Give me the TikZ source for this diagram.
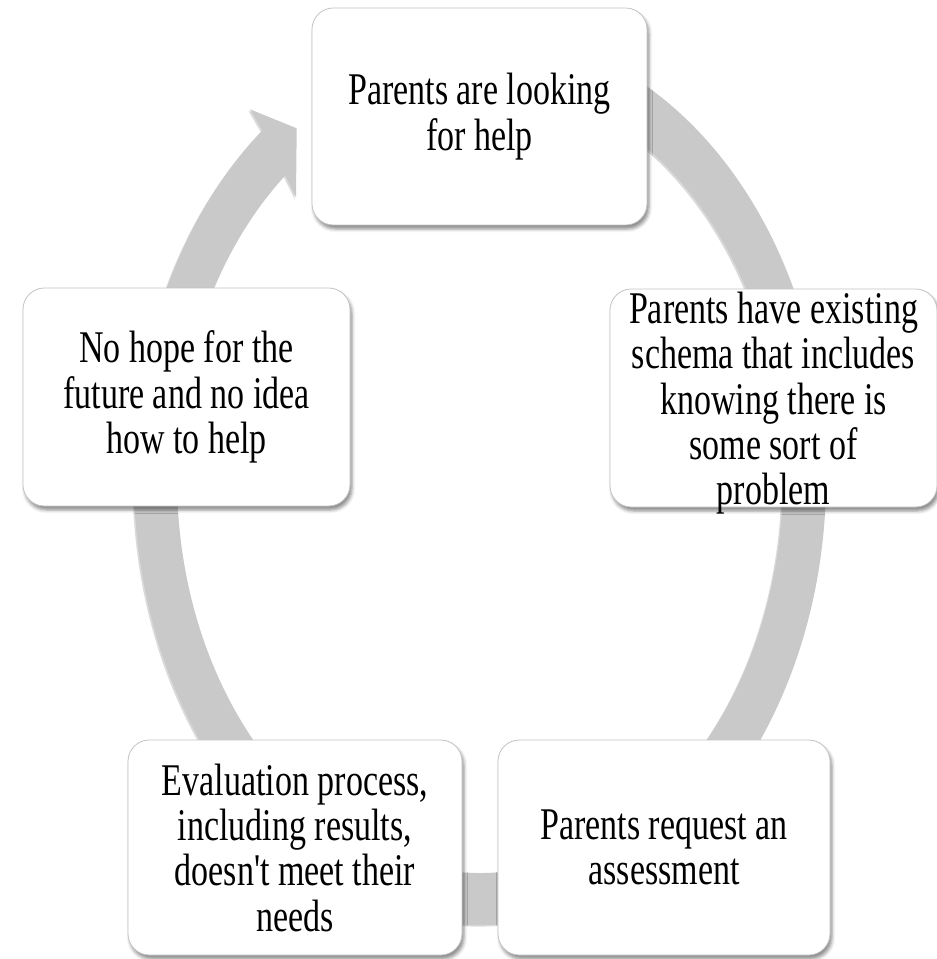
\documentclass[tikz,border=0pt]{standalone}
\usepackage{fontspec}
\newfontfamily\boxfont{Liberation Serif}[FakeStretch=0.75,Ligatures=TeXOff]
\usetikzlibrary{shadows.blur}
\definecolor{ringgray}{RGB}{201,201,201}
\definecolor{ringshade}{RGB}{150,150,150}
\definecolor{boxline}{RGB}{195,195,195}
\begin{document}
\begin{tikzpicture}[x=0.75pt,y=-0.75pt,
  cyclebox/.style={draw=boxline, line width=0.6pt, fill=white, rounded corners=16pt,
    inner sep=0pt,
    blur shadow={shadow xshift=1.5pt, shadow yshift=-3pt, shadow blur radius=2.5pt, shadow opacity=45}},
  boxtext/.style={align=center, inner sep=0pt, text=black,
    font=\boxfont\fontsize{34}{34}\selectfont}
  ]
\useasboundingbox (0,0) rectangle (937,959);
% ring shadow (faint)
\fill[ringshade, opacity=0.35, shift={(-1.5,1.5)}]
  ([shift={(480,478)}]-100:346 and 447)
  arc[start angle=-100, end angle=231, x radius=346, y radius=447]
  -- (250,109.3) -- (296.7,128.3) -- (296,197.3)
  -- ([shift={(480,478)}]230:303 and 395)
  arc[start angle=230, end angle=-100, x radius=303, y radius=395] -- cycle;
% ring with arrowhead
\fill[ringgray]
  ([shift={(480,478)}]-100:346 and 447)
  arc[start angle=-100, end angle=231, x radius=346, y radius=447]
  -- (250,109.3) -- (296.7,128.3) -- (296,197.3)
  -- ([shift={(480,478)}]230:303 and 395)
  arc[start angle=230, end angle=-100, x radius=303, y radius=395] -- cycle;
% boxes
\node[cyclebox, minimum width=251.25pt, minimum height=162.75pt] (n1) at (479.5,116.5) {};
\node[cyclebox, minimum width=245.25pt, minimum height=163.5pt] (n2) at (773.5,398) {};
\node[cyclebox, minimum width=249pt, minimum height=161.25pt] (n3) at (664,847.5) {};
\node[cyclebox, minimum width=250.5pt, minimum height=161.25pt] (n4) at (295,847.5) {};
\node[cyclebox, minimum width=245.25pt, minimum height=163.5pt] (n5) at (186.5,397) {};
% texts
\node[boxtext] (t1) at (n1) {Parents are looking\\for help};
\node[boxtext] (t2) at ([yshift=-4pt]n2.center) {Parents have existing\\schema that includes\\knowing there is\\some sort of\\problem};
\node[boxtext] (t3) at (n3) {Parents request an\\assessment};
\node[boxtext] (t4) at (n4) {Evaluation process,\\including results,\\doesn't meet their\\needs};
\node[boxtext] (t5) at (n5) {No hope for the\\future and no idea\\how to help};
\end{tikzpicture}
\end{document}
